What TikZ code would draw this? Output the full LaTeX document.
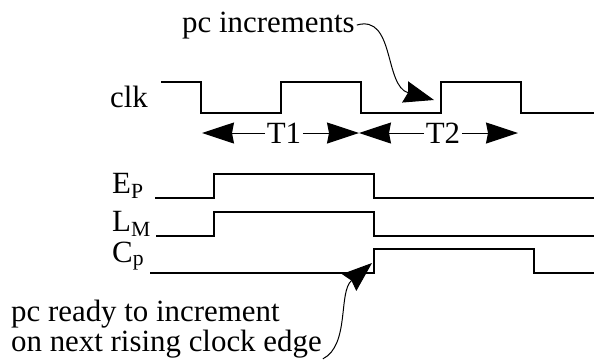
\documentclass[tikz,border=0pt]{standalone}
\usepackage{fontspec}
\setmainfont{Liberation Serif}
\usepackage{tikz}
\usetikzlibrary{arrows.meta, positioning, calc}

\begin{document}
\begin{tikzpicture}[
    x=1bp, y=-1bp,
    sig/.style={line width=1.1bp, line join=miter},
    lbl/.style={inner sep=0pt, anchor=base west, font=\fontsize{31}{28}\selectfont},
    tlbl/.style={inner sep=1.5bp, font=\fontsize{31}{28}\selectfont},
    dim/.style={line width=1bp, -{Stealth[length=32bp, width=21bp, inset=2bp]}},
    call/.style={line width=1bp, -{Stealth[length=30bp, width=22bp, inset=3bp]}},
]
\useasboundingbox (0,0) rectangle (594,363);

% signal names
\node[lbl] (clk) at (110,107) {clk};
\node[lbl] (ep) at (112,193) {E\textsubscript{P}};
\node[lbl] (lm) at (112,231) {L\textsubscript{M}};
\node[lbl] (cp) at (112,262) {C\textsubscript{p}};

% waveforms
\draw[sig] (161,82) -- (201,82) -- (201,113) -- (281,113) -- (281,82) -- (361,82) -- (361,113)
    -- (441,113) -- (441,82) -- (521,82) -- (521,113) -- (594,113);
\draw[sig] (155,198) -- (214,198) -- (214,174) -- (374,174) -- (374,198) -- (594,198);
\draw[sig] (156,236) -- (214,236) -- (214,212) -- (374,212) -- (374,236) -- (594,236);
\draw[sig] (150,273) -- (374,273) -- (374,249) -- (534,249) -- (534,273) -- (594,273);

% clock periods
\node[tlbl] (t1) at (284,133) {T1};
\node[tlbl] (t2) at (443,133) {T2};
\coordinate (t1l) at (202,133);
\coordinate (t1r) at (359,133);
\coordinate (t2l) at (359,133);
\coordinate (t2r) at (518,133);
\draw[dim] (t1.west) -- (t1l);
\draw[dim] (t1.east) -- (t1r);
\draw[dim] (t2.west) -- (t2l);
\draw[dim] (t2.east) -- (t2r);

% callouts
\node[lbl, inner sep=2bp] (inc) at (180,32) {pc increments};
\coordinate (incedge) at (434,100);
\draw[call] (inc.east) .. controls (395,14) and (384,86) .. (incedge);

\node[lbl, align=left, inner sep=1bp] (ready) at (10,351) {pc ready to increment\\on next rising clock edge};
\coordinate (readyedge) at (372,263);
\draw[call] (ready.south east) .. controls (350,345) and (338,292) .. (readyedge);

\end{tikzpicture}
\end{document}
